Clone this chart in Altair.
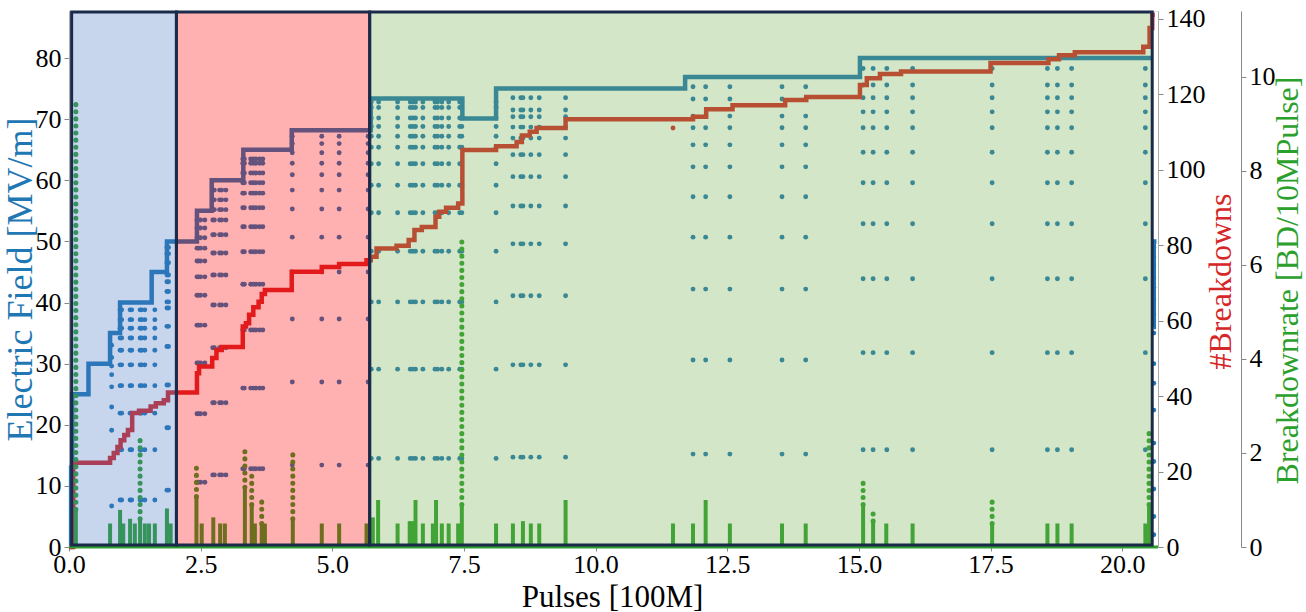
import altair as alt
import pandas as pd

FONT = "Liberation Serif, Times New Roman, serif"
X_MAX = 20.68
BLUE, RED, GREEN = "#1f77b4", "#d62728", "#2ca02c"

# ---------------- Electric field step line (run 1 and restart) ----------------
field_x = [0.02, 0.04, 0.06, 0.37, 0.78, 0.97, 1.57, 1.86, 2.43, 2.71, 3.31, 4.23,
           5.73, 7.47, 8.11, 11.70, 15.02, 20.56]
field_e = [0.0, 13.0, 25.0, 30.0, 35.0, 40.0, 45.0, 50.0, 55.0, 60.0, 65.0, 68.2,
           73.4, 70.1, 75.0, 76.9, 80.0, 80.0]
field2_x = [20.595, 20.60, 20.65]
field2_e = [36.0, 50.0, 50.0]

# ---------------- Electric field dots (ramp-up after breakdowns) ----------------
stage_cols = {
    "s35": [0.81],
    "s40": [0.97, 1.00, 1.16, 1.19, 1.35, 1.38, 1.44, 1.63],
    "s50": [1.86, 1.89],
    "s55": [2.43, 2.46, 2.50, 2.58],
    "s60": [2.73, 2.76, 2.86, 2.90, 2.98],
    "s65": [3.30, 3.33, 3.45, 3.50, 3.55, 3.62, 3.68],
    "s68": [4.24, 4.80, 5.13, 5.68],
    "s73": [5.74, 5.88, 6.24, 6.48, 6.53, 6.58, 6.72, 6.95, 7.00, 7.08, 7.21, 7.42, 7.46, 8.11],
    "s75": [8.43, 8.58, 8.62, 8.77, 8.93, 9.43],
    "s77": [11.85, 12.09, 12.55, 13.54, 13.99],
    "s80": [15.08, 15.27, 15.53, 16.02, 17.53, 18.58, 18.77, 19.04, 20.44],
}
stage_levels = {
    "s35": [33.0, 31.0, 29.6, 28.2, 26.2, 22.9, 19.1, 6.7],
    "s40": [38.8, 37.2, 35.8, 34.2, 32.2, 29.8, 26.4, 21.9, 15.9, 7.7],
    "s50": [49.0, 48.0, 46.5, 44.5, 43.4, 41.8, 40.1, 39.1, 36.1, 32.8, 26.5, 19.5, 9.3],
    "s55": [53.5, 52.2, 50.6, 48.9, 46.8, 44.2, 41.2, 36.3, 30.1, 21.8, 10.6],
    "s60": [58.4, 56.8, 55.2, 53.5, 51.1, 48.1, 44.5, 39.6, 32.6, 23.6, 11.8],
    "s65": [63.5, 62.8, 61.2, 59.6, 57.9, 55.5, 52.4, 48.3, 43.0, 35.5, 26.0, 12.8],
    "s68": [67.2, 66.0, 64.5, 62.8, 60.9, 58.4, 55.3, 50.7, 45.0, 37.3, 27.0, 13.4],
    "s73": [72.8, 71.9, 70.2, 68.8, 67.2, 65.4, 62.7, 59.2, 54.7, 48.4, 40.1, 29.1, 14.5],
    "s75": [73.5, 71.5, 70.4, 68.7, 66.9, 64.2, 60.6, 55.8, 49.6, 41.1, 29.8, 14.7],
    "s77": [75.3, 73.3, 70.5, 68.6, 65.8, 62.2, 57.3, 50.7, 42.2, 30.6, 15.2],
    "s80": [78.3, 75.6, 73.5, 71.2, 68.6, 64.6, 59.6, 52.9, 43.9, 31.8, 15.9],
}
restart_x = 20.60
restart_e = [49.0, 47.5, 46.0, 44.0, 42.5, 40.5, 38.0, 35.0, 30.0, 26.8, 22.4, 17.0, 14.0, 9.5, 5.0, 2.0]

# ---------------- Cumulative breakdowns step line ----------------
bd_x = [0.00, 0.08, 0.78, 0.85, 0.92, 0.98, 1.05, 1.12, 1.20, 1.33, 1.55, 1.65, 1.80, 1.88,
        2.43, 2.47, 2.72, 2.80, 2.90, 3.30, 3.36, 3.42, 3.50, 3.60, 3.66, 3.72, 4.23, 4.80,
        5.13, 5.65, 5.73, 5.84, 6.22, 6.45, 6.56, 6.70, 6.96, 7.03, 7.16, 7.39, 7.47, 8.11,
        8.50, 8.60, 8.75, 8.88, 9.43, 11.85, 12.10, 12.60, 13.60, 14.00, 15.02, 15.15, 15.40,
        15.80, 17.50, 18.60, 18.80, 19.10, 20.40, 20.52, 20.57, 20.62]
bd_n = [0.0, 22.3, 23.6, 24.9, 26.5, 28.3, 29.7, 31.0, 35.5, 36.1, 37.2, 38.1, 38.9, 40.9,
        46.0, 47.8, 50.1, 52.2, 53.0, 58.4, 59.3, 61.5, 63.5, 65.0, 67.0, 68.1, 72.9, 74.2,
        75.0, 76.0, 76.9, 79.1, 79.8, 81.3, 84.0, 84.8, 87.5, 88.8, 89.9, 91.0, 105.2, 106.2,
        107.3, 109.0, 110.0, 111.0, 113.3, 114.0, 116.0, 117.0, 118.4, 119.2, 122.4, 124.2, 125.3,
        126.0, 128.2, 129.2, 130.3, 131.1, 132.5, 137.5, 141.0, 141.0]
bd_stray_x = [11.47]
bd_stray_n = [111.0]

# ---------------- Breakdown rate spikes ----------------
spike_x = [0.13, 0.78, 0.97, 1.03, 1.16, 1.25, 1.35, 1.44, 1.52, 1.63, 1.86, 1.93, 2.42, 2.52,
           2.74, 2.87, 2.96, 3.34, 3.47, 3.53, 3.66, 3.72, 4.25, 4.80, 5.13, 5.65, 5.77, 5.87,
           6.24, 6.47, 6.53, 6.58, 6.72, 6.91, 6.97, 7.08, 7.21, 7.39, 7.46, 8.11, 8.43, 8.62,
           8.77, 8.93, 9.43, 11.47, 11.85, 12.09, 12.55, 13.54, 13.99, 15.08, 15.27, 15.52, 16.02,
           17.53, 18.58, 18.77, 19.04, 20.44, 20.51]
spike_top = [0.8, 0.5, 0.79, 0.5, 0.6, 0.5, 0.6, 0.5, 0.5, 0.5, 0.82, 0.5, 1.07, 0.5,
             0.63, 0.5, 0.5, 1.27, 0.9, 0.5, 0.5, 0.5, 0.6, 0.5, 0.5, 0.5, 0.63, 1.0,
             0.5, 0.55, 0.55, 1.0, 0.5, 0.5, 1.0, 0.5, 0.5, 0.5, 0.9, 0.5, 0.5, 0.55,
             0.5, 0.5, 1.0, 0.5, 0.5, 1.0, 0.5, 0.5, 0.5, 0.9, 0.55, 0.5, 0.5,
             0.5, 0.5, 0.5, 0.5, 0.5, 0.9]
dotted_x = [0.13, 1.35, 2.42, 3.34, 3.47, 3.66, 4.25, 7.46, 15.08, 15.27, 17.53, 20.51]
dotted_lo = [0.8, 0.6, 1.07, 1.27, 0.9, 0.5, 0.6, 0.9, 0.9, 0.55, 0.5, 0.9]
dotted_hi = [9.5, 2.4, 1.8, 2.1, 1.57, 1.07, 1.96, 6.5, 1.49, 0.79, 1.0, 2.5]

# ---------------- Conditioning regions ----------------
reg_start = [0.05, 2.04, 5.71]
reg_end = [2.04, 5.71, 20.57]
reg_color = ["#4a79c4", "#ff0000", "#74ad4e"]

# ---------------- tables ----------------
field_df = pd.DataFrame({"x": field_x + field2_x, "e": field_e + field2_e,
                         "run": [1] * len(field_x) + [2] * len(field2_x)})
dots = []
for key, cols in stage_cols.items():
    for cx in cols:
        for lv in stage_levels[key]:
            dots.append({"x": cx, "e": lv})
for lv in restart_e:
    dots.append({"x": restart_x, "e": lv})
dots_df = pd.DataFrame(dots)
bd_df = pd.DataFrame({"x": bd_x, "n": bd_n})
stray_df = pd.DataFrame({"x": bd_stray_x, "n": bd_stray_n})
spike_df = pd.DataFrame({"x": spike_x, "lo": [0.0] * len(spike_x), "hi": spike_top})
dotted_df = pd.DataFrame({"x": dotted_x, "lo": dotted_lo, "hi": dotted_hi})
base_df = pd.DataFrame({"x": [0.0], "x2": [X_MAX], "lo": [0.0]})
reg_df = pd.DataFrame({"s": reg_start, "e": reg_end, "c": reg_color})

# ---------------- scales & axes ----------------
common = dict(labelFont=FONT, titleFont=FONT, titleFontWeight="normal", labelColor="black",
              labelFontSize=26, tickColor="#888", labelFlush=False, grid=False,
              titleBaseline="alphabetic", titleAlign="center")
xs = alt.Scale(domain=[0, X_MAX], nice=False, zero=False)
x_axis = alt.Axis(values=[0, 2.5, 5, 7.5, 10, 12.5, 15, 17.5, 20], format=".1f",
                  title="Pulses [100M]", titleFontSize=31, titleColor="black",
                  tickSize=4, domain=False, labelPadding=0, titleX=543, titleY=59,
                  **common)
X = lambda f="x": alt.X(f"{f}:Q", scale=xs, axis=x_axis)

e_scale = alt.Scale(domain=[0, 87.7], nice=False)
e_axis = alt.Axis(orient="left", values=list(range(0, 90, 10)), title="Electric Field [MV/m]",
                  titleColor=BLUE, titleFontSize=36, tickSize=5, domainColor="#aaa",
                  labelPadding=3, titleAngle=270, titleX=-38, titleY=268, **common)
bd_scale = alt.Scale(domain=[0, 142], nice=False)
bd_axis = alt.Axis(orient="right", values=list(range(0, 150, 20)), title="#Breakdowns",
                   titleColor=RED, titleFontSize=32, tickSize=5, domainColor="#aaa",
                   labelPadding=3, titleAngle=270, titleX=72, titleY=270, **common)
r_scale = alt.Scale(domain=[0, 11.4], nice=False)
r_axis = alt.Axis(orient="right", offset=83, values=[0, 2, 4, 6, 8, 10],
                  title="Breakdownrate [BD/10MPulse]", titleColor=GREEN, titleFontSize=32,
                  tickSize=5, domainColor="#888", labelPadding=3, titleAngle=270,
                  titleX=56, titleY=269, **common)

# ---------------- layers ----------------
e_line = alt.Chart(field_df).mark_line(interpolate="step-after", color=BLUE, strokeWidth=4.5).encode(
    x=X(), y=alt.Y("e:Q", scale=e_scale, axis=e_axis), detail="run:N")
e_dots = alt.Chart(dots_df).mark_circle(size=24, color=BLUE, opacity=1).encode(
    x=X(), y=alt.Y("e:Q", scale=e_scale, axis=e_axis))
e_layer = alt.layer(e_line, e_dots)

bd_line = alt.Chart(bd_df).mark_line(interpolate="step-after", color=RED, strokeWidth=4.5).encode(
    x=X(), y=alt.Y("n:Q", scale=bd_scale, axis=bd_axis))
bd_pt = alt.Chart(stray_df).mark_circle(size=24, color=RED, opacity=1).encode(
    x=X(), y=alt.Y("n:Q", scale=bd_scale, axis=bd_axis))
bd_layer = alt.layer(bd_line, bd_pt)

r_base = alt.Chart(base_df).mark_rule(color=GREEN, strokeWidth=3).encode(
    x=X(), x2="x2:Q", y=alt.Y("lo:Q", scale=r_scale, axis=r_axis))
r_spk = alt.Chart(spike_df).mark_rule(color=GREEN, strokeWidth=4).encode(
    x=X(), y=alt.Y("lo:Q", scale=r_scale, axis=r_axis), y2="hi:Q")
r_dot = alt.Chart(dotted_df).mark_rule(color=GREEN, strokeWidth=5, strokeCap="round",
                                       strokeDash=[0.1, 7]).encode(
    x=X(), y=alt.Y("lo:Q", scale=r_scale, axis=r_axis), y2="hi:Q")
r_layer = alt.layer(r_base, r_spk, r_dot)

regions = alt.Chart(reg_df).mark_rect(fillOpacity=0.31, stroke="#1b2a4a", strokeWidth=3,
                                      strokeOpacity=1).encode(
    x=X("s"), x2="e:Q", y=alt.value(1), y2=alt.value(534),
    fill=alt.Fill("c:N", scale=None))

chart = alt.layer(e_layer, bd_layer, r_layer, regions).resolve_scale(
    y="independent"
).properties(
    width=1089, height=536, autosize=alt.AutoSizeParams(type="none"),
    padding={"left": 69, "top": 11, "right": 148, "bottom": 65},
    background="white",
).configure_view(stroke="#aaa", strokeWidth=1).configure_axis(
    labelFont=FONT, titleFont=FONT, titleFontWeight="normal"
).configure(font=FONT)

chart.save("out.html", embed_options={"renderer": "svg", "actions": False})
